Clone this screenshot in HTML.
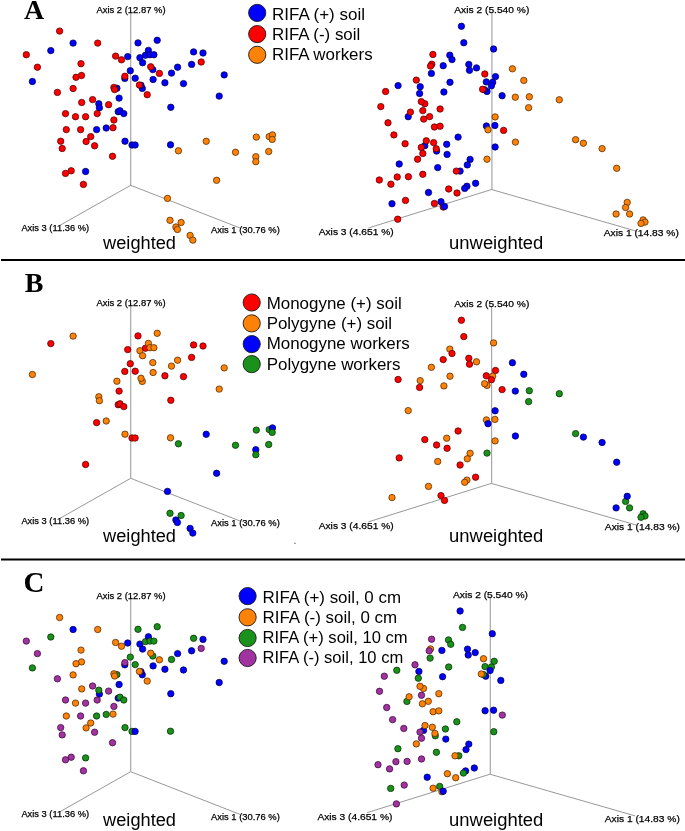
<!DOCTYPE html>
<html><head><meta charset="utf-8"><title>PCoA</title>
<style>html,body{margin:0;padding:0;background:#fff;}svg{display:block;will-change:transform;}</style></head>
<body><svg width="685" height="831" viewBox="0 0 685 831" font-family="Liberation Sans, sans-serif">
<rect width="685" height="831" fill="#fff"/>
<text x="23.90" y="19.40" font-family="Liberation Serif" font-size="28" font-weight="bold">A</text>
<line x1="130.70" y1="10.00" x2="130.70" y2="185.30" stroke="#a8a8a8" stroke-width="1.2"/>
<line x1="130.70" y1="185.30" x2="60.00" y2="225.30" stroke="#8c8c8c" stroke-width="0.9"/>
<line x1="130.70" y1="185.30" x2="240.00" y2="228.00" stroke="#8c8c8c" stroke-width="0.9"/>
<text x="96.40" y="12.60" font-family="Liberation Sans" font-size="9" font-weight="normal" textLength="69.2" lengthAdjust="spacingAndGlyphs" stroke="#000" stroke-width="0.25">Axis 2 (12.87 %)</text>
<text x="21.40" y="230.60" font-family="Liberation Sans" font-size="9" font-weight="normal" textLength="67.7" lengthAdjust="spacingAndGlyphs" stroke="#000" stroke-width="0.25">Axis 3 (11.36 %)</text>
<text x="211.00" y="233.20" font-family="Liberation Sans" font-size="9" font-weight="normal" textLength="68.8" lengthAdjust="spacingAndGlyphs" stroke="#000" stroke-width="0.25">Axis 1 (30.76 %)</text>
<text x="103.10" y="248.80" font-family="Liberation Sans" font-size="18" font-weight="normal" textLength="72.9" lengthAdjust="spacingAndGlyphs">weighted</text>
<circle cx="73.1" cy="43.1" r="3.2" fill="#0000ff" stroke="#000050" stroke-width="0.75"/>
<circle cx="50.8" cy="50.6" r="3.2" fill="#0000ff" stroke="#000050" stroke-width="0.75"/>
<circle cx="32.4" cy="81.5" r="3.2" fill="#0000ff" stroke="#000050" stroke-width="0.75"/>
<circle cx="138.0" cy="42.9" r="3.2" fill="#0000ff" stroke="#000050" stroke-width="0.75"/>
<circle cx="157.2" cy="40.3" r="3.2" fill="#0000ff" stroke="#000050" stroke-width="0.75"/>
<circle cx="127.7" cy="56.6" r="3.2" fill="#0000ff" stroke="#000050" stroke-width="0.75"/>
<circle cx="139.9" cy="57.7" r="3.2" fill="#0000ff" stroke="#000050" stroke-width="0.75"/>
<circle cx="145.5" cy="55.2" r="3.2" fill="#0000ff" stroke="#000050" stroke-width="0.75"/>
<circle cx="148.4" cy="50.4" r="3.2" fill="#0000ff" stroke="#000050" stroke-width="0.75"/>
<circle cx="150.0" cy="54.7" r="3.2" fill="#0000ff" stroke="#000050" stroke-width="0.75"/>
<circle cx="153.9" cy="54.7" r="3.2" fill="#0000ff" stroke="#000050" stroke-width="0.75"/>
<circle cx="142.6" cy="62.7" r="3.2" fill="#0000ff" stroke="#000050" stroke-width="0.75"/>
<circle cx="130.3" cy="70.7" r="3.2" fill="#0000ff" stroke="#000050" stroke-width="0.75"/>
<circle cx="152.8" cy="69.6" r="3.2" fill="#0000ff" stroke="#000050" stroke-width="0.75"/>
<circle cx="135.2" cy="78.2" r="3.2" fill="#0000ff" stroke="#000050" stroke-width="0.75"/>
<circle cx="124.8" cy="78.4" r="3.2" fill="#0000ff" stroke="#000050" stroke-width="0.75"/>
<circle cx="153.1" cy="79.5" r="3.2" fill="#0000ff" stroke="#000050" stroke-width="0.75"/>
<circle cx="164.9" cy="82.8" r="3.2" fill="#0000ff" stroke="#000050" stroke-width="0.75"/>
<circle cx="171.5" cy="73.1" r="3.2" fill="#0000ff" stroke="#000050" stroke-width="0.75"/>
<circle cx="177.6" cy="67.2" r="3.2" fill="#0000ff" stroke="#000050" stroke-width="0.75"/>
<circle cx="191.6" cy="64.4" r="3.2" fill="#0000ff" stroke="#000050" stroke-width="0.75"/>
<circle cx="193.6" cy="51.9" r="3.2" fill="#0000ff" stroke="#000050" stroke-width="0.75"/>
<circle cx="203.0" cy="53.0" r="3.2" fill="#0000ff" stroke="#000050" stroke-width="0.75"/>
<circle cx="224.2" cy="74.9" r="3.2" fill="#0000ff" stroke="#000050" stroke-width="0.75"/>
<circle cx="183.5" cy="83.6" r="3.2" fill="#0000ff" stroke="#000050" stroke-width="0.75"/>
<circle cx="142.3" cy="88.4" r="3.2" fill="#0000ff" stroke="#000050" stroke-width="0.75"/>
<circle cx="219.2" cy="96.1" r="3.2" fill="#0000ff" stroke="#000050" stroke-width="0.75"/>
<circle cx="170.8" cy="107.3" r="3.2" fill="#0000ff" stroke="#000050" stroke-width="0.75"/>
<circle cx="116.9" cy="88.2" r="3.2" fill="#0000ff" stroke="#000050" stroke-width="0.75"/>
<circle cx="119.1" cy="98.1" r="3.2" fill="#0000ff" stroke="#000050" stroke-width="0.75"/>
<circle cx="98.8" cy="103.8" r="3.2" fill="#0000ff" stroke="#000050" stroke-width="0.75"/>
<circle cx="99.4" cy="107.7" r="3.2" fill="#0000ff" stroke="#000050" stroke-width="0.75"/>
<circle cx="118.2" cy="111.7" r="3.2" fill="#0000ff" stroke="#000050" stroke-width="0.75"/>
<circle cx="120.0" cy="110.8" r="3.2" fill="#0000ff" stroke="#000050" stroke-width="0.75"/>
<circle cx="123.8" cy="113.6" r="3.2" fill="#0000ff" stroke="#000050" stroke-width="0.75"/>
<circle cx="96.6" cy="129.6" r="3.2" fill="#0000ff" stroke="#000050" stroke-width="0.75"/>
<circle cx="106.2" cy="128.0" r="3.2" fill="#0000ff" stroke="#000050" stroke-width="0.75"/>
<circle cx="125.0" cy="141.2" r="3.2" fill="#0000ff" stroke="#000050" stroke-width="0.75"/>
<circle cx="132.0" cy="145.0" r="3.2" fill="#0000ff" stroke="#000050" stroke-width="0.75"/>
<circle cx="135.1" cy="145.0" r="3.2" fill="#0000ff" stroke="#000050" stroke-width="0.75"/>
<circle cx="85.6" cy="171.5" r="3.2" fill="#0000ff" stroke="#000050" stroke-width="0.75"/>
<circle cx="170.5" cy="144.8" r="3.2" fill="#0000ff" stroke="#000050" stroke-width="0.75"/>
<circle cx="141.0" cy="85.3" r="3.2" fill="#0000ff" stroke="#000050" stroke-width="0.75"/>
<circle cx="59.6" cy="31.1" r="3.2" fill="#ff0000" stroke="#500000" stroke-width="0.75"/>
<circle cx="97.7" cy="43.1" r="3.2" fill="#ff0000" stroke="#500000" stroke-width="0.75"/>
<circle cx="26.3" cy="54.7" r="3.2" fill="#ff0000" stroke="#500000" stroke-width="0.75"/>
<circle cx="37.4" cy="67.2" r="3.2" fill="#ff0000" stroke="#500000" stroke-width="0.75"/>
<circle cx="81.0" cy="63.7" r="3.2" fill="#ff0000" stroke="#500000" stroke-width="0.75"/>
<circle cx="115.6" cy="56.1" r="3.2" fill="#ff0000" stroke="#500000" stroke-width="0.75"/>
<circle cx="121.5" cy="59.8" r="3.2" fill="#ff0000" stroke="#500000" stroke-width="0.75"/>
<circle cx="81.5" cy="75.5" r="3.2" fill="#ff0000" stroke="#500000" stroke-width="0.75"/>
<circle cx="76.0" cy="77.3" r="3.2" fill="#ff0000" stroke="#500000" stroke-width="0.75"/>
<circle cx="124.9" cy="76.2" r="3.2" fill="#ff0000" stroke="#500000" stroke-width="0.75"/>
<circle cx="57.4" cy="92.4" r="3.2" fill="#ff0000" stroke="#500000" stroke-width="0.75"/>
<circle cx="73.1" cy="88.5" r="3.2" fill="#ff0000" stroke="#500000" stroke-width="0.75"/>
<circle cx="113.9" cy="87.4" r="3.2" fill="#ff0000" stroke="#500000" stroke-width="0.75"/>
<circle cx="139.4" cy="85.0" r="3.2" fill="#ff0000" stroke="#500000" stroke-width="0.75"/>
<circle cx="147.2" cy="94.7" r="3.2" fill="#ff0000" stroke="#500000" stroke-width="0.75"/>
<circle cx="81.7" cy="102.5" r="3.2" fill="#ff0000" stroke="#500000" stroke-width="0.75"/>
<circle cx="92.6" cy="99.6" r="3.2" fill="#ff0000" stroke="#500000" stroke-width="0.75"/>
<circle cx="108.6" cy="104.7" r="3.2" fill="#ff0000" stroke="#500000" stroke-width="0.75"/>
<circle cx="65.5" cy="113.6" r="3.2" fill="#ff0000" stroke="#500000" stroke-width="0.75"/>
<circle cx="75.5" cy="116.7" r="3.2" fill="#ff0000" stroke="#500000" stroke-width="0.75"/>
<circle cx="85.6" cy="116.7" r="3.2" fill="#ff0000" stroke="#500000" stroke-width="0.75"/>
<circle cx="97.2" cy="113.6" r="3.2" fill="#ff0000" stroke="#500000" stroke-width="0.75"/>
<circle cx="113.9" cy="120.0" r="3.2" fill="#ff0000" stroke="#500000" stroke-width="0.75"/>
<circle cx="66.3" cy="129.6" r="3.2" fill="#ff0000" stroke="#500000" stroke-width="0.75"/>
<circle cx="80.6" cy="129.6" r="3.2" fill="#ff0000" stroke="#500000" stroke-width="0.75"/>
<circle cx="113.0" cy="127.7" r="3.2" fill="#ff0000" stroke="#500000" stroke-width="0.75"/>
<circle cx="90.7" cy="136.6" r="3.2" fill="#ff0000" stroke="#500000" stroke-width="0.75"/>
<circle cx="86.1" cy="141.5" r="3.2" fill="#ff0000" stroke="#500000" stroke-width="0.75"/>
<circle cx="60.7" cy="141.2" r="3.2" fill="#ff0000" stroke="#500000" stroke-width="0.75"/>
<circle cx="62.2" cy="148.5" r="3.2" fill="#ff0000" stroke="#500000" stroke-width="0.75"/>
<circle cx="94.6" cy="145.8" r="3.2" fill="#ff0000" stroke="#500000" stroke-width="0.75"/>
<circle cx="112.5" cy="156.3" r="3.2" fill="#ff0000" stroke="#500000" stroke-width="0.75"/>
<circle cx="71.2" cy="170.8" r="3.2" fill="#ff0000" stroke="#500000" stroke-width="0.75"/>
<circle cx="65.5" cy="173.4" r="3.2" fill="#ff0000" stroke="#500000" stroke-width="0.75"/>
<circle cx="83.4" cy="184.4" r="3.2" fill="#ff0000" stroke="#500000" stroke-width="0.75"/>
<circle cx="150.7" cy="66.8" r="3.2" fill="#ff0000" stroke="#500000" stroke-width="0.75"/>
<circle cx="159.4" cy="73.4" r="3.2" fill="#ff0000" stroke="#500000" stroke-width="0.75"/>
<circle cx="201.2" cy="62.0" r="3.2" fill="#ff0000" stroke="#500000" stroke-width="0.75"/>
<circle cx="114.6" cy="89.6" r="3.2" fill="#ff0000" stroke="#500000" stroke-width="0.75"/>
<circle cx="206.2" cy="141.3" r="3.2" fill="#ff8208" stroke="#502800" stroke-width="0.75"/>
<circle cx="178.4" cy="150.8" r="3.2" fill="#ff8208" stroke="#502800" stroke-width="0.75"/>
<circle cx="235.5" cy="152.3" r="3.2" fill="#ff8208" stroke="#502800" stroke-width="0.75"/>
<circle cx="256.3" cy="137.1" r="3.2" fill="#ff8208" stroke="#502800" stroke-width="0.75"/>
<circle cx="269.2" cy="136.6" r="3.2" fill="#ff8208" stroke="#502800" stroke-width="0.75"/>
<circle cx="272.5" cy="134.9" r="3.2" fill="#ff8208" stroke="#502800" stroke-width="0.75"/>
<circle cx="272.2" cy="139.4" r="3.2" fill="#ff8208" stroke="#502800" stroke-width="0.75"/>
<circle cx="268.7" cy="151.5" r="3.2" fill="#ff8208" stroke="#502800" stroke-width="0.75"/>
<circle cx="255.8" cy="156.7" r="3.2" fill="#ff8208" stroke="#502800" stroke-width="0.75"/>
<circle cx="255.8" cy="161.7" r="3.2" fill="#ff8208" stroke="#502800" stroke-width="0.75"/>
<circle cx="216.6" cy="180.3" r="3.2" fill="#ff8208" stroke="#502800" stroke-width="0.75"/>
<circle cx="167.5" cy="198.4" r="3.2" fill="#ff8208" stroke="#502800" stroke-width="0.75"/>
<circle cx="170.0" cy="220.3" r="3.2" fill="#ff8208" stroke="#502800" stroke-width="0.75"/>
<circle cx="181.1" cy="222.5" r="3.2" fill="#ff8208" stroke="#502800" stroke-width="0.75"/>
<circle cx="175.9" cy="227.0" r="3.2" fill="#ff8208" stroke="#502800" stroke-width="0.75"/>
<circle cx="177.4" cy="229.5" r="3.2" fill="#ff8208" stroke="#502800" stroke-width="0.75"/>
<circle cx="190.1" cy="235.4" r="3.2" fill="#ff8208" stroke="#502800" stroke-width="0.75"/>
<circle cx="192.8" cy="240.1" r="3.2" fill="#ff8208" stroke="#502800" stroke-width="0.75"/>
<line x1="491.90" y1="12.00" x2="491.90" y2="189.40" stroke="#c4c4c4" stroke-width="1.8"/>
<line x1="491.90" y1="189.40" x2="368.40" y2="228.00" stroke="#8c8c8c" stroke-width="0.9"/>
<line x1="491.90" y1="189.60" x2="636.50" y2="231.20" stroke="#8c8c8c" stroke-width="0.9"/>
<text x="454.30" y="13.40" font-family="Liberation Sans" font-size="9.6" font-weight="normal" textLength="75.0" lengthAdjust="spacingAndGlyphs" stroke="#000" stroke-width="0.25">Axis 2 (5.540 %)</text>
<text x="318.70" y="235.40" font-family="Liberation Sans" font-size="9.6" font-weight="normal" textLength="75.0" lengthAdjust="spacingAndGlyphs" stroke="#000" stroke-width="0.25">Axis 3 (4.651 %)</text>
<text x="603.70" y="235.60" font-family="Liberation Sans" font-size="9.6" font-weight="normal" textLength="75.2" lengthAdjust="spacingAndGlyphs" stroke="#000" stroke-width="0.25">Axis 1 (14.83 %)</text>
<text x="449.10" y="249.00" font-family="Liberation Sans" font-size="18" font-weight="normal" textLength="94.2" lengthAdjust="spacingAndGlyphs">unweighted</text>
<circle cx="461.4" cy="26.3" r="3.2" fill="#0000ff" stroke="#000050" stroke-width="0.75"/>
<circle cx="463.8" cy="42.7" r="3.2" fill="#0000ff" stroke="#000050" stroke-width="0.75"/>
<circle cx="493.6" cy="49.0" r="3.2" fill="#0000ff" stroke="#000050" stroke-width="0.75"/>
<circle cx="449.8" cy="55.2" r="3.2" fill="#0000ff" stroke="#000050" stroke-width="0.75"/>
<circle cx="452.0" cy="59.6" r="3.2" fill="#0000ff" stroke="#000050" stroke-width="0.75"/>
<circle cx="443.2" cy="65.7" r="3.2" fill="#0000ff" stroke="#000050" stroke-width="0.75"/>
<circle cx="431.4" cy="73.4" r="3.2" fill="#0000ff" stroke="#000050" stroke-width="0.75"/>
<circle cx="468.8" cy="64.4" r="3.2" fill="#0000ff" stroke="#000050" stroke-width="0.75"/>
<circle cx="476.5" cy="67.9" r="3.2" fill="#0000ff" stroke="#000050" stroke-width="0.75"/>
<circle cx="469.5" cy="70.3" r="3.2" fill="#0000ff" stroke="#000050" stroke-width="0.75"/>
<circle cx="495.5" cy="76.6" r="3.2" fill="#0000ff" stroke="#000050" stroke-width="0.75"/>
<circle cx="486.3" cy="81.9" r="3.2" fill="#0000ff" stroke="#000050" stroke-width="0.75"/>
<circle cx="492.7" cy="82.3" r="3.2" fill="#0000ff" stroke="#000050" stroke-width="0.75"/>
<circle cx="491.4" cy="85.8" r="3.2" fill="#0000ff" stroke="#000050" stroke-width="0.75"/>
<circle cx="450.0" cy="82.3" r="3.2" fill="#0000ff" stroke="#000050" stroke-width="0.75"/>
<circle cx="443.9" cy="92.0" r="3.2" fill="#0000ff" stroke="#000050" stroke-width="0.75"/>
<circle cx="487.0" cy="91.5" r="3.2" fill="#0000ff" stroke="#000050" stroke-width="0.75"/>
<circle cx="484.6" cy="89.8" r="3.2" fill="#0000ff" stroke="#000050" stroke-width="0.75"/>
<circle cx="502.1" cy="95.7" r="3.2" fill="#0000ff" stroke="#000050" stroke-width="0.75"/>
<circle cx="398.1" cy="85.6" r="3.2" fill="#0000ff" stroke="#000050" stroke-width="0.75"/>
<circle cx="420.2" cy="86.7" r="3.2" fill="#0000ff" stroke="#000050" stroke-width="0.75"/>
<circle cx="419.6" cy="93.5" r="3.2" fill="#0000ff" stroke="#000050" stroke-width="0.75"/>
<circle cx="408.2" cy="116.7" r="3.2" fill="#0000ff" stroke="#000050" stroke-width="0.75"/>
<circle cx="486.4" cy="126.0" r="3.2" fill="#0000ff" stroke="#000050" stroke-width="0.75"/>
<circle cx="494.9" cy="125.5" r="3.2" fill="#0000ff" stroke="#000050" stroke-width="0.75"/>
<circle cx="458.1" cy="137.1" r="3.2" fill="#0000ff" stroke="#000050" stroke-width="0.75"/>
<circle cx="446.7" cy="144.3" r="3.2" fill="#0000ff" stroke="#000050" stroke-width="0.75"/>
<circle cx="424.8" cy="145.7" r="3.2" fill="#0000ff" stroke="#000050" stroke-width="0.75"/>
<circle cx="436.6" cy="151.1" r="3.2" fill="#0000ff" stroke="#000050" stroke-width="0.75"/>
<circle cx="447.1" cy="154.4" r="3.2" fill="#0000ff" stroke="#000050" stroke-width="0.75"/>
<circle cx="495.1" cy="147.0" r="3.2" fill="#0000ff" stroke="#000050" stroke-width="0.75"/>
<circle cx="470.1" cy="159.4" r="3.2" fill="#0000ff" stroke="#000050" stroke-width="0.75"/>
<circle cx="467.3" cy="164.9" r="3.2" fill="#0000ff" stroke="#000050" stroke-width="0.75"/>
<circle cx="399.2" cy="164.0" r="3.2" fill="#0000ff" stroke="#000050" stroke-width="0.75"/>
<circle cx="437.7" cy="167.6" r="3.2" fill="#0000ff" stroke="#000050" stroke-width="0.75"/>
<circle cx="460.1" cy="171.1" r="3.2" fill="#0000ff" stroke="#000050" stroke-width="0.75"/>
<circle cx="475.6" cy="183.3" r="3.2" fill="#0000ff" stroke="#000050" stroke-width="0.75"/>
<circle cx="466.9" cy="186.2" r="3.2" fill="#0000ff" stroke="#000050" stroke-width="0.75"/>
<circle cx="464.7" cy="188.4" r="3.2" fill="#0000ff" stroke="#000050" stroke-width="0.75"/>
<circle cx="428.5" cy="192.5" r="3.2" fill="#0000ff" stroke="#000050" stroke-width="0.75"/>
<circle cx="392.0" cy="203.7" r="3.2" fill="#0000ff" stroke="#000050" stroke-width="0.75"/>
<circle cx="441.0" cy="201.7" r="3.2" fill="#0000ff" stroke="#000050" stroke-width="0.75"/>
<circle cx="432.9" cy="54.5" r="3.2" fill="#ff0000" stroke="#500000" stroke-width="0.75"/>
<circle cx="431.8" cy="64.2" r="3.2" fill="#ff0000" stroke="#500000" stroke-width="0.75"/>
<circle cx="430.5" cy="66.1" r="3.2" fill="#ff0000" stroke="#500000" stroke-width="0.75"/>
<circle cx="484.8" cy="74.0" r="3.2" fill="#ff0000" stroke="#500000" stroke-width="0.75"/>
<circle cx="416.3" cy="80.1" r="3.2" fill="#ff0000" stroke="#500000" stroke-width="0.75"/>
<circle cx="482.6" cy="89.3" r="3.2" fill="#ff0000" stroke="#500000" stroke-width="0.75"/>
<circle cx="385.6" cy="91.5" r="3.2" fill="#ff0000" stroke="#500000" stroke-width="0.75"/>
<circle cx="380.8" cy="106.6" r="3.2" fill="#ff0000" stroke="#500000" stroke-width="0.75"/>
<circle cx="424.8" cy="103.8" r="3.2" fill="#ff0000" stroke="#500000" stroke-width="0.75"/>
<circle cx="422.8" cy="110.6" r="3.2" fill="#ff0000" stroke="#500000" stroke-width="0.75"/>
<circle cx="410.4" cy="112.1" r="3.2" fill="#ff0000" stroke="#500000" stroke-width="0.75"/>
<circle cx="440.1" cy="109.0" r="3.2" fill="#ff0000" stroke="#500000" stroke-width="0.75"/>
<circle cx="429.6" cy="116.6" r="3.2" fill="#ff0000" stroke="#500000" stroke-width="0.75"/>
<circle cx="423.7" cy="119.1" r="3.2" fill="#ff0000" stroke="#500000" stroke-width="0.75"/>
<circle cx="388.0" cy="122.8" r="3.2" fill="#ff0000" stroke="#500000" stroke-width="0.75"/>
<circle cx="434.4" cy="127.0" r="3.2" fill="#ff0000" stroke="#500000" stroke-width="0.75"/>
<circle cx="440.1" cy="126.2" r="3.2" fill="#ff0000" stroke="#500000" stroke-width="0.75"/>
<circle cx="503.6" cy="130.4" r="3.2" fill="#ff0000" stroke="#500000" stroke-width="0.75"/>
<circle cx="393.9" cy="134.9" r="3.2" fill="#ff0000" stroke="#500000" stroke-width="0.75"/>
<circle cx="405.1" cy="143.7" r="3.2" fill="#ff0000" stroke="#500000" stroke-width="0.75"/>
<circle cx="426.3" cy="140.8" r="3.2" fill="#ff0000" stroke="#500000" stroke-width="0.75"/>
<circle cx="433.6" cy="142.6" r="3.2" fill="#ff0000" stroke="#500000" stroke-width="0.75"/>
<circle cx="421.3" cy="147.4" r="3.2" fill="#ff0000" stroke="#500000" stroke-width="0.75"/>
<circle cx="436.2" cy="148.7" r="3.2" fill="#ff0000" stroke="#500000" stroke-width="0.75"/>
<circle cx="422.8" cy="153.5" r="3.2" fill="#ff0000" stroke="#500000" stroke-width="0.75"/>
<circle cx="417.6" cy="159.2" r="3.2" fill="#ff0000" stroke="#500000" stroke-width="0.75"/>
<circle cx="379.3" cy="180.0" r="3.2" fill="#ff0000" stroke="#500000" stroke-width="0.75"/>
<circle cx="397.2" cy="177.0" r="3.2" fill="#ff0000" stroke="#500000" stroke-width="0.75"/>
<circle cx="390.9" cy="184.2" r="3.2" fill="#ff0000" stroke="#500000" stroke-width="0.75"/>
<circle cx="408.4" cy="176.7" r="3.2" fill="#ff0000" stroke="#500000" stroke-width="0.75"/>
<circle cx="422.8" cy="174.3" r="3.2" fill="#ff0000" stroke="#500000" stroke-width="0.75"/>
<circle cx="456.3" cy="171.1" r="3.2" fill="#ff0000" stroke="#500000" stroke-width="0.75"/>
<circle cx="448.7" cy="189.0" r="3.2" fill="#ff0000" stroke="#500000" stroke-width="0.75"/>
<circle cx="457.0" cy="193.0" r="3.2" fill="#ff0000" stroke="#500000" stroke-width="0.75"/>
<circle cx="405.5" cy="200.4" r="3.2" fill="#ff0000" stroke="#500000" stroke-width="0.75"/>
<circle cx="434.4" cy="203.5" r="3.2" fill="#ff0000" stroke="#500000" stroke-width="0.75"/>
<circle cx="443.2" cy="207.0" r="3.2" fill="#ff0000" stroke="#500000" stroke-width="0.75"/>
<circle cx="397.7" cy="219.2" r="3.2" fill="#ff0000" stroke="#500000" stroke-width="0.75"/>
<circle cx="512.4" cy="68.8" r="3.2" fill="#ff8208" stroke="#502800" stroke-width="0.75"/>
<circle cx="523.8" cy="80.4" r="3.2" fill="#ff8208" stroke="#502800" stroke-width="0.75"/>
<circle cx="515.3" cy="97.2" r="3.2" fill="#ff8208" stroke="#502800" stroke-width="0.75"/>
<circle cx="529.3" cy="96.8" r="3.2" fill="#ff8208" stroke="#502800" stroke-width="0.75"/>
<circle cx="528.6" cy="107.7" r="3.2" fill="#ff8208" stroke="#502800" stroke-width="0.75"/>
<circle cx="559.3" cy="99.8" r="3.2" fill="#ff8208" stroke="#502800" stroke-width="0.75"/>
<circle cx="495.1" cy="116.9" r="3.2" fill="#ff8208" stroke="#502800" stroke-width="0.75"/>
<circle cx="488.0" cy="129.8" r="3.2" fill="#ff8208" stroke="#502800" stroke-width="0.75"/>
<circle cx="487.0" cy="159.2" r="3.2" fill="#ff8208" stroke="#502800" stroke-width="0.75"/>
<circle cx="515.4" cy="142.1" r="3.2" fill="#ff8208" stroke="#502800" stroke-width="0.75"/>
<circle cx="575.6" cy="139.7" r="3.2" fill="#ff8208" stroke="#502800" stroke-width="0.75"/>
<circle cx="583.4" cy="143.2" r="3.2" fill="#ff8208" stroke="#502800" stroke-width="0.75"/>
<circle cx="602.1" cy="148.6" r="3.2" fill="#ff8208" stroke="#502800" stroke-width="0.75"/>
<circle cx="616.7" cy="168.3" r="3.2" fill="#ff8208" stroke="#502800" stroke-width="0.75"/>
<circle cx="627.2" cy="202.4" r="3.2" fill="#ff8208" stroke="#502800" stroke-width="0.75"/>
<circle cx="625.6" cy="207.5" r="3.2" fill="#ff8208" stroke="#502800" stroke-width="0.75"/>
<circle cx="616.1" cy="214.0" r="3.2" fill="#ff8208" stroke="#502800" stroke-width="0.75"/>
<circle cx="629.6" cy="214.0" r="3.2" fill="#ff8208" stroke="#502800" stroke-width="0.75"/>
<circle cx="643.1" cy="219.9" r="3.2" fill="#ff8208" stroke="#502800" stroke-width="0.75"/>
<circle cx="645.0" cy="222.1" r="3.2" fill="#ff8208" stroke="#502800" stroke-width="0.75"/>
<circle cx="641.0" cy="223.4" r="3.2" fill="#ff8208" stroke="#502800" stroke-width="0.75"/>
<circle cx="444.5" cy="206.5" r="3.2" fill="#0000ff" stroke="#000050" stroke-width="0.75"/>
<circle cx="421.3" cy="101.6" r="3.2" fill="#ff0000" stroke="#500000" stroke-width="0.75"/>
<circle cx="257.2" cy="12.9" r="8.6" fill="#0000ff" stroke="#1a1a1a" stroke-width="0.9"/>
<text x="272.00" y="19.80" font-family="Liberation Sans" font-size="16.5" font-weight="normal" textLength="93.0" lengthAdjust="spacingAndGlyphs">RIFA (+) soil</text>
<circle cx="257.2" cy="34.1" r="8.6" fill="#ff0000" stroke="#1a1a1a" stroke-width="0.9"/>
<text x="272.00" y="40.10" font-family="Liberation Sans" font-size="16.5" font-weight="normal" textLength="88.3" lengthAdjust="spacingAndGlyphs">RIFA (-) soil</text>
<circle cx="257.2" cy="54.8" r="8.6" fill="#ff8208" stroke="#1a1a1a" stroke-width="0.9"/>
<text x="272.00" y="60.30" font-family="Liberation Sans" font-size="16.5" font-weight="normal" textLength="100.6" lengthAdjust="spacingAndGlyphs">RIFA workers</text>
<line x1="1.00" y1="260.00" x2="685.00" y2="260.00" stroke="#000" stroke-width="2"/>
<text x="24.70" y="292.10" font-family="Liberation Serif" font-size="28" font-weight="bold">B</text>
<line x1="130.70" y1="303.00" x2="130.70" y2="478.30" stroke="#a8a8a8" stroke-width="1.2"/>
<line x1="130.70" y1="478.30" x2="60.00" y2="518.30" stroke="#8c8c8c" stroke-width="0.9"/>
<line x1="130.70" y1="478.30" x2="240.00" y2="521.00" stroke="#8c8c8c" stroke-width="0.9"/>
<text x="96.40" y="305.60" font-family="Liberation Sans" font-size="9" font-weight="normal" textLength="69.2" lengthAdjust="spacingAndGlyphs" stroke="#000" stroke-width="0.25">Axis 2 (12.87 %)</text>
<text x="21.40" y="523.60" font-family="Liberation Sans" font-size="9" font-weight="normal" textLength="67.7" lengthAdjust="spacingAndGlyphs" stroke="#000" stroke-width="0.25">Axis 3 (11.36 %)</text>
<text x="211.00" y="526.20" font-family="Liberation Sans" font-size="9" font-weight="normal" textLength="68.8" lengthAdjust="spacingAndGlyphs" stroke="#000" stroke-width="0.25">Axis 1 (30.76 %)</text>
<text x="103.10" y="542.40" font-family="Liberation Sans" font-size="18" font-weight="normal" textLength="72.9" lengthAdjust="spacingAndGlyphs">weighted</text>
<circle cx="73.1" cy="336.1" r="3.2" fill="#ff8208" stroke="#502800" stroke-width="0.75"/>
<circle cx="50.8" cy="343.6" r="3.2" fill="#ff0000" stroke="#500000" stroke-width="0.75"/>
<circle cx="32.4" cy="374.5" r="3.2" fill="#ff8208" stroke="#502800" stroke-width="0.75"/>
<circle cx="138.0" cy="335.9" r="3.2" fill="#ff0000" stroke="#500000" stroke-width="0.75"/>
<circle cx="157.2" cy="333.3" r="3.2" fill="#ff8208" stroke="#502800" stroke-width="0.75"/>
<circle cx="127.7" cy="349.6" r="3.2" fill="#ff0000" stroke="#500000" stroke-width="0.75"/>
<circle cx="139.9" cy="350.7" r="3.2" fill="#ff8208" stroke="#502800" stroke-width="0.75"/>
<circle cx="145.5" cy="348.2" r="3.2" fill="#ff0000" stroke="#500000" stroke-width="0.75"/>
<circle cx="148.4" cy="343.4" r="3.2" fill="#ff8208" stroke="#502800" stroke-width="0.75"/>
<circle cx="150.0" cy="347.7" r="3.2" fill="#ff8208" stroke="#502800" stroke-width="0.75"/>
<circle cx="153.9" cy="347.7" r="3.2" fill="#ff8208" stroke="#502800" stroke-width="0.75"/>
<circle cx="142.6" cy="355.7" r="3.2" fill="#ff8208" stroke="#502800" stroke-width="0.75"/>
<circle cx="130.3" cy="363.7" r="3.2" fill="#ff0000" stroke="#500000" stroke-width="0.75"/>
<circle cx="152.8" cy="362.6" r="3.2" fill="#ff8208" stroke="#502800" stroke-width="0.75"/>
<circle cx="135.2" cy="371.2" r="3.2" fill="#ff0000" stroke="#500000" stroke-width="0.75"/>
<circle cx="124.8" cy="371.4" r="3.2" fill="#ff0000" stroke="#500000" stroke-width="0.75"/>
<circle cx="153.1" cy="372.5" r="3.2" fill="#ff8208" stroke="#502800" stroke-width="0.75"/>
<circle cx="164.9" cy="375.8" r="3.2" fill="#ff0000" stroke="#500000" stroke-width="0.75"/>
<circle cx="171.5" cy="366.1" r="3.2" fill="#ff8208" stroke="#502800" stroke-width="0.75"/>
<circle cx="177.6" cy="360.2" r="3.2" fill="#ff8208" stroke="#502800" stroke-width="0.75"/>
<circle cx="191.6" cy="357.4" r="3.2" fill="#ff0000" stroke="#500000" stroke-width="0.75"/>
<circle cx="193.6" cy="344.9" r="3.2" fill="#ff0000" stroke="#500000" stroke-width="0.75"/>
<circle cx="203.0" cy="346.0" r="3.2" fill="#ff0000" stroke="#500000" stroke-width="0.75"/>
<circle cx="224.2" cy="367.9" r="3.2" fill="#ff8208" stroke="#502800" stroke-width="0.75"/>
<circle cx="183.5" cy="376.6" r="3.2" fill="#ff0000" stroke="#500000" stroke-width="0.75"/>
<circle cx="142.3" cy="381.4" r="3.2" fill="#ff8208" stroke="#502800" stroke-width="0.75"/>
<circle cx="219.2" cy="389.1" r="3.2" fill="#ff8208" stroke="#502800" stroke-width="0.75"/>
<circle cx="170.8" cy="400.3" r="3.2" fill="#ff0000" stroke="#500000" stroke-width="0.75"/>
<circle cx="116.9" cy="381.2" r="3.2" fill="#ff8208" stroke="#502800" stroke-width="0.75"/>
<circle cx="119.1" cy="391.1" r="3.2" fill="#ff0000" stroke="#500000" stroke-width="0.75"/>
<circle cx="98.8" cy="396.8" r="3.2" fill="#ff8208" stroke="#502800" stroke-width="0.75"/>
<circle cx="99.4" cy="400.7" r="3.2" fill="#ff8208" stroke="#502800" stroke-width="0.75"/>
<circle cx="118.2" cy="404.7" r="3.2" fill="#ff0000" stroke="#500000" stroke-width="0.75"/>
<circle cx="120.0" cy="403.8" r="3.2" fill="#ff0000" stroke="#500000" stroke-width="0.75"/>
<circle cx="123.8" cy="406.6" r="3.2" fill="#ff0000" stroke="#500000" stroke-width="0.75"/>
<circle cx="96.6" cy="422.6" r="3.2" fill="#ff0000" stroke="#500000" stroke-width="0.75"/>
<circle cx="106.2" cy="421.0" r="3.2" fill="#ff8208" stroke="#502800" stroke-width="0.75"/>
<circle cx="125.0" cy="434.2" r="3.2" fill="#ff8208" stroke="#502800" stroke-width="0.75"/>
<circle cx="132.0" cy="438.0" r="3.2" fill="#ff0000" stroke="#500000" stroke-width="0.75"/>
<circle cx="135.1" cy="438.0" r="3.2" fill="#ff0000" stroke="#500000" stroke-width="0.75"/>
<circle cx="85.6" cy="464.5" r="3.2" fill="#ff0000" stroke="#500000" stroke-width="0.75"/>
<circle cx="170.5" cy="437.8" r="3.2" fill="#ff8208" stroke="#502800" stroke-width="0.75"/>
<circle cx="141.0" cy="378.3" r="3.2" fill="#ff8208" stroke="#502800" stroke-width="0.75"/>
<circle cx="206.2" cy="434.3" r="3.2" fill="#0000ff" stroke="#000050" stroke-width="0.75"/>
<circle cx="178.4" cy="443.8" r="3.2" fill="#1a911a" stroke="#063006" stroke-width="0.75"/>
<circle cx="235.5" cy="445.3" r="3.2" fill="#1a911a" stroke="#063006" stroke-width="0.75"/>
<circle cx="256.3" cy="430.1" r="3.2" fill="#1a911a" stroke="#063006" stroke-width="0.75"/>
<circle cx="269.2" cy="429.6" r="3.2" fill="#1a911a" stroke="#063006" stroke-width="0.75"/>
<circle cx="272.5" cy="427.9" r="3.2" fill="#0000ff" stroke="#000050" stroke-width="0.75"/>
<circle cx="272.2" cy="432.4" r="3.2" fill="#1a911a" stroke="#063006" stroke-width="0.75"/>
<circle cx="268.7" cy="444.5" r="3.2" fill="#1a911a" stroke="#063006" stroke-width="0.75"/>
<circle cx="255.8" cy="449.7" r="3.2" fill="#0000ff" stroke="#000050" stroke-width="0.75"/>
<circle cx="255.8" cy="454.7" r="3.2" fill="#1a911a" stroke="#063006" stroke-width="0.75"/>
<circle cx="216.6" cy="473.3" r="3.2" fill="#0000ff" stroke="#000050" stroke-width="0.75"/>
<circle cx="167.5" cy="491.4" r="3.2" fill="#0000ff" stroke="#000050" stroke-width="0.75"/>
<circle cx="170.0" cy="513.3" r="3.2" fill="#1a911a" stroke="#063006" stroke-width="0.75"/>
<circle cx="181.1" cy="515.5" r="3.2" fill="#1a911a" stroke="#063006" stroke-width="0.75"/>
<circle cx="175.9" cy="520.0" r="3.2" fill="#0000ff" stroke="#000050" stroke-width="0.75"/>
<circle cx="177.4" cy="522.5" r="3.2" fill="#0000ff" stroke="#000050" stroke-width="0.75"/>
<circle cx="190.1" cy="528.4" r="3.2" fill="#0000ff" stroke="#000050" stroke-width="0.75"/>
<circle cx="192.8" cy="533.1" r="3.2" fill="#0000ff" stroke="#000050" stroke-width="0.75"/>
<line x1="491.60" y1="305.90" x2="491.60" y2="483.30" stroke="#a8a8a8" stroke-width="1.2"/>
<line x1="491.60" y1="483.30" x2="368.40" y2="521.90" stroke="#8c8c8c" stroke-width="0.9"/>
<line x1="491.60" y1="483.50" x2="636.50" y2="525.10" stroke="#8c8c8c" stroke-width="0.9"/>
<text x="454.30" y="307.30" font-family="Liberation Sans" font-size="9.6" font-weight="normal" textLength="75.0" lengthAdjust="spacingAndGlyphs" stroke="#000" stroke-width="0.25">Axis 2 (5.540 %)</text>
<text x="318.70" y="529.30" font-family="Liberation Sans" font-size="9.6" font-weight="normal" textLength="75.0" lengthAdjust="spacingAndGlyphs" stroke="#000" stroke-width="0.25">Axis 3 (4.651 %)</text>
<text x="604.80" y="530.20" font-family="Liberation Sans" font-size="9.6" font-weight="normal" textLength="75.2" lengthAdjust="spacingAndGlyphs" stroke="#000" stroke-width="0.25">Axis 1 (14.83 %)</text>
<text x="449.10" y="541.90" font-family="Liberation Sans" font-size="18" font-weight="normal" textLength="94.2" lengthAdjust="spacingAndGlyphs">unweighted</text>
<circle cx="461.4" cy="320.2" r="3.2" fill="#ff0000" stroke="#500000" stroke-width="0.75"/>
<circle cx="463.8" cy="336.6" r="3.2" fill="#ff0000" stroke="#500000" stroke-width="0.75"/>
<circle cx="493.6" cy="342.9" r="3.2" fill="#ff8208" stroke="#502800" stroke-width="0.75"/>
<circle cx="449.8" cy="349.1" r="3.2" fill="#ff8208" stroke="#502800" stroke-width="0.75"/>
<circle cx="452.0" cy="353.5" r="3.2" fill="#ff0000" stroke="#500000" stroke-width="0.75"/>
<circle cx="443.2" cy="359.6" r="3.2" fill="#ff0000" stroke="#500000" stroke-width="0.75"/>
<circle cx="431.4" cy="367.3" r="3.2" fill="#ff8208" stroke="#502800" stroke-width="0.75"/>
<circle cx="468.8" cy="358.3" r="3.2" fill="#ff0000" stroke="#500000" stroke-width="0.75"/>
<circle cx="476.5" cy="361.8" r="3.2" fill="#ff8208" stroke="#502800" stroke-width="0.75"/>
<circle cx="469.5" cy="364.2" r="3.2" fill="#ff0000" stroke="#500000" stroke-width="0.75"/>
<circle cx="495.5" cy="370.5" r="3.2" fill="#ff0000" stroke="#500000" stroke-width="0.75"/>
<circle cx="486.3" cy="375.8" r="3.2" fill="#ff0000" stroke="#500000" stroke-width="0.75"/>
<circle cx="492.7" cy="376.2" r="3.2" fill="#ff8208" stroke="#502800" stroke-width="0.75"/>
<circle cx="491.4" cy="379.7" r="3.2" fill="#ff0000" stroke="#500000" stroke-width="0.75"/>
<circle cx="450.0" cy="376.2" r="3.2" fill="#ff8208" stroke="#502800" stroke-width="0.75"/>
<circle cx="443.9" cy="385.9" r="3.2" fill="#ff8208" stroke="#502800" stroke-width="0.75"/>
<circle cx="487.0" cy="385.4" r="3.2" fill="#ff8208" stroke="#502800" stroke-width="0.75"/>
<circle cx="484.6" cy="383.7" r="3.2" fill="#ff8208" stroke="#502800" stroke-width="0.75"/>
<circle cx="502.1" cy="389.6" r="3.2" fill="#ff0000" stroke="#500000" stroke-width="0.75"/>
<circle cx="398.1" cy="379.5" r="3.2" fill="#ff0000" stroke="#500000" stroke-width="0.75"/>
<circle cx="420.2" cy="380.6" r="3.2" fill="#ff8208" stroke="#502800" stroke-width="0.75"/>
<circle cx="419.6" cy="387.4" r="3.2" fill="#ff0000" stroke="#500000" stroke-width="0.75"/>
<circle cx="408.2" cy="410.6" r="3.2" fill="#ff8208" stroke="#502800" stroke-width="0.75"/>
<circle cx="486.4" cy="419.9" r="3.2" fill="#ff8208" stroke="#502800" stroke-width="0.75"/>
<circle cx="494.9" cy="419.4" r="3.2" fill="#ff8208" stroke="#502800" stroke-width="0.75"/>
<circle cx="458.1" cy="431.0" r="3.2" fill="#ff0000" stroke="#500000" stroke-width="0.75"/>
<circle cx="446.7" cy="438.2" r="3.2" fill="#ff8208" stroke="#502800" stroke-width="0.75"/>
<circle cx="424.8" cy="439.6" r="3.2" fill="#ff0000" stroke="#500000" stroke-width="0.75"/>
<circle cx="436.6" cy="445.0" r="3.2" fill="#ff0000" stroke="#500000" stroke-width="0.75"/>
<circle cx="447.1" cy="448.3" r="3.2" fill="#ff0000" stroke="#500000" stroke-width="0.75"/>
<circle cx="495.1" cy="440.9" r="3.2" fill="#ff8208" stroke="#502800" stroke-width="0.75"/>
<circle cx="470.1" cy="453.3" r="3.2" fill="#ff8208" stroke="#502800" stroke-width="0.75"/>
<circle cx="467.3" cy="458.8" r="3.2" fill="#ff8208" stroke="#502800" stroke-width="0.75"/>
<circle cx="399.2" cy="457.9" r="3.2" fill="#ff0000" stroke="#500000" stroke-width="0.75"/>
<circle cx="437.7" cy="461.5" r="3.2" fill="#ff8208" stroke="#502800" stroke-width="0.75"/>
<circle cx="460.1" cy="465.0" r="3.2" fill="#ff0000" stroke="#500000" stroke-width="0.75"/>
<circle cx="475.6" cy="477.2" r="3.2" fill="#ff0000" stroke="#500000" stroke-width="0.75"/>
<circle cx="466.9" cy="480.1" r="3.2" fill="#ff8208" stroke="#502800" stroke-width="0.75"/>
<circle cx="464.7" cy="482.3" r="3.2" fill="#ff8208" stroke="#502800" stroke-width="0.75"/>
<circle cx="428.5" cy="486.4" r="3.2" fill="#ff8208" stroke="#502800" stroke-width="0.75"/>
<circle cx="392.0" cy="497.6" r="3.2" fill="#ff8208" stroke="#502800" stroke-width="0.75"/>
<circle cx="441.0" cy="495.6" r="3.2" fill="#ff0000" stroke="#500000" stroke-width="0.75"/>
<circle cx="444.5" cy="500.4" r="3.2" fill="#ff0000" stroke="#500000" stroke-width="0.75"/>
<circle cx="512.4" cy="362.7" r="3.2" fill="#0000ff" stroke="#000050" stroke-width="0.75"/>
<circle cx="523.8" cy="374.3" r="3.2" fill="#0000ff" stroke="#000050" stroke-width="0.75"/>
<circle cx="515.3" cy="391.1" r="3.2" fill="#0000ff" stroke="#000050" stroke-width="0.75"/>
<circle cx="529.3" cy="390.7" r="3.2" fill="#1a911a" stroke="#063006" stroke-width="0.75"/>
<circle cx="528.6" cy="401.6" r="3.2" fill="#1a911a" stroke="#063006" stroke-width="0.75"/>
<circle cx="559.3" cy="393.7" r="3.2" fill="#1a911a" stroke="#063006" stroke-width="0.75"/>
<circle cx="495.1" cy="410.8" r="3.2" fill="#0000ff" stroke="#000050" stroke-width="0.75"/>
<circle cx="488.0" cy="423.7" r="3.2" fill="#0000ff" stroke="#000050" stroke-width="0.75"/>
<circle cx="487.0" cy="453.1" r="3.2" fill="#1a911a" stroke="#063006" stroke-width="0.75"/>
<circle cx="515.4" cy="436.0" r="3.2" fill="#0000ff" stroke="#000050" stroke-width="0.75"/>
<circle cx="575.6" cy="433.6" r="3.2" fill="#1a911a" stroke="#063006" stroke-width="0.75"/>
<circle cx="583.4" cy="437.1" r="3.2" fill="#0000ff" stroke="#000050" stroke-width="0.75"/>
<circle cx="602.1" cy="442.5" r="3.2" fill="#0000ff" stroke="#000050" stroke-width="0.75"/>
<circle cx="616.7" cy="462.2" r="3.2" fill="#0000ff" stroke="#000050" stroke-width="0.75"/>
<circle cx="625.6" cy="501.4" r="3.2" fill="#1a911a" stroke="#063006" stroke-width="0.75"/>
<circle cx="616.1" cy="507.9" r="3.2" fill="#0000ff" stroke="#000050" stroke-width="0.75"/>
<circle cx="629.6" cy="507.9" r="3.2" fill="#1a911a" stroke="#063006" stroke-width="0.75"/>
<circle cx="643.1" cy="513.8" r="3.2" fill="#1a911a" stroke="#063006" stroke-width="0.75"/>
<circle cx="645.0" cy="516.0" r="3.2" fill="#1a911a" stroke="#063006" stroke-width="0.75"/>
<circle cx="641.0" cy="517.3" r="3.2" fill="#1a911a" stroke="#063006" stroke-width="0.75"/>
<circle cx="627.2" cy="496.3" r="3.2" fill="#0000ff" stroke="#000050" stroke-width="0.75"/>
<circle cx="251.7" cy="302.5" r="8.6" fill="#ff0000" stroke="#1a1a1a" stroke-width="0.9"/>
<text x="266.70" y="309.10" font-family="Liberation Sans" font-size="16.5" font-weight="normal" textLength="135.0" lengthAdjust="spacingAndGlyphs">Monogyne (+) soil</text>
<circle cx="251.7" cy="323.4" r="8.6" fill="#ff8208" stroke="#1a1a1a" stroke-width="0.9"/>
<text x="266.70" y="329.20" font-family="Liberation Sans" font-size="16.5" font-weight="normal" textLength="125.4" lengthAdjust="spacingAndGlyphs">Polygyne (+) soil</text>
<circle cx="251.7" cy="344.1" r="8.6" fill="#0000ff" stroke="#1a1a1a" stroke-width="0.9"/>
<text x="266.70" y="349.40" font-family="Liberation Sans" font-size="16.5" font-weight="normal" textLength="143.1" lengthAdjust="spacingAndGlyphs">Monogyne workers</text>
<circle cx="251.7" cy="364.1" r="8.6" fill="#1a911a" stroke="#1a1a1a" stroke-width="0.9"/>
<text x="266.70" y="369.50" font-family="Liberation Sans" font-size="16.5" font-weight="normal" textLength="133.8" lengthAdjust="spacingAndGlyphs">Polygyne workers</text>
<line x1="1.00" y1="559.60" x2="685.00" y2="559.60" stroke="#000" stroke-width="2"/>
<rect x="294" y="542.8" width="2" height="1.2" fill="#a0a0ac"/>
<text x="23.60" y="591.70" font-family="Liberation Serif" font-size="29" font-weight="bold">C</text>
<line x1="130.70" y1="596.40" x2="130.70" y2="771.70" stroke="#a8a8a8" stroke-width="1.2"/>
<line x1="130.70" y1="771.70" x2="60.00" y2="811.70" stroke="#8c8c8c" stroke-width="0.9"/>
<line x1="130.70" y1="771.70" x2="240.00" y2="814.40" stroke="#8c8c8c" stroke-width="0.9"/>
<text x="96.40" y="599.00" font-family="Liberation Sans" font-size="9" font-weight="normal" textLength="69.2" lengthAdjust="spacingAndGlyphs" stroke="#000" stroke-width="0.25">Axis 2 (12.87 %)</text>
<text x="21.40" y="817.00" font-family="Liberation Sans" font-size="9" font-weight="normal" textLength="67.7" lengthAdjust="spacingAndGlyphs" stroke="#000" stroke-width="0.25">Axis 3 (11.36 %)</text>
<text x="211.00" y="819.60" font-family="Liberation Sans" font-size="9" font-weight="normal" textLength="68.8" lengthAdjust="spacingAndGlyphs" stroke="#000" stroke-width="0.25">Axis 1 (30.76 %)</text>
<text x="103.10" y="825.80" font-family="Liberation Sans" font-size="18" font-weight="normal" textLength="72.9" lengthAdjust="spacingAndGlyphs">weighted</text>
<circle cx="73.1" cy="629.5" r="3.2" fill="#0000ff" stroke="#000050" stroke-width="0.75"/>
<circle cx="50.8" cy="637.0" r="3.2" fill="#1a911a" stroke="#063006" stroke-width="0.75"/>
<circle cx="32.4" cy="667.9" r="3.2" fill="#1a911a" stroke="#063006" stroke-width="0.75"/>
<circle cx="138.0" cy="629.3" r="3.2" fill="#1a911a" stroke="#063006" stroke-width="0.75"/>
<circle cx="157.2" cy="626.7" r="3.2" fill="#1a911a" stroke="#063006" stroke-width="0.75"/>
<circle cx="127.7" cy="643.0" r="3.2" fill="#0000ff" stroke="#000050" stroke-width="0.75"/>
<circle cx="139.9" cy="644.1" r="3.2" fill="#0000ff" stroke="#000050" stroke-width="0.75"/>
<circle cx="145.5" cy="641.6" r="3.2" fill="#1a911a" stroke="#063006" stroke-width="0.75"/>
<circle cx="148.4" cy="636.8" r="3.2" fill="#0000ff" stroke="#000050" stroke-width="0.75"/>
<circle cx="150.0" cy="641.1" r="3.2" fill="#1a911a" stroke="#063006" stroke-width="0.75"/>
<circle cx="153.9" cy="641.1" r="3.2" fill="#1a911a" stroke="#063006" stroke-width="0.75"/>
<circle cx="142.6" cy="649.1" r="3.2" fill="#0000ff" stroke="#000050" stroke-width="0.75"/>
<circle cx="130.3" cy="657.1" r="3.2" fill="#1a911a" stroke="#063006" stroke-width="0.75"/>
<circle cx="152.8" cy="656.0" r="3.2" fill="#1a911a" stroke="#063006" stroke-width="0.75"/>
<circle cx="135.2" cy="664.6" r="3.2" fill="#1a911a" stroke="#063006" stroke-width="0.75"/>
<circle cx="124.8" cy="664.8" r="3.2" fill="#0000ff" stroke="#000050" stroke-width="0.75"/>
<circle cx="153.1" cy="665.9" r="3.2" fill="#0000ff" stroke="#000050" stroke-width="0.75"/>
<circle cx="164.9" cy="669.2" r="3.2" fill="#0000ff" stroke="#000050" stroke-width="0.75"/>
<circle cx="171.5" cy="659.5" r="3.2" fill="#1a911a" stroke="#063006" stroke-width="0.75"/>
<circle cx="177.6" cy="653.6" r="3.2" fill="#0000ff" stroke="#000050" stroke-width="0.75"/>
<circle cx="191.6" cy="650.8" r="3.2" fill="#0000ff" stroke="#000050" stroke-width="0.75"/>
<circle cx="193.6" cy="638.3" r="3.2" fill="#1a911a" stroke="#063006" stroke-width="0.75"/>
<circle cx="203.0" cy="639.4" r="3.2" fill="#0000ff" stroke="#000050" stroke-width="0.75"/>
<circle cx="224.2" cy="661.3" r="3.2" fill="#0000ff" stroke="#000050" stroke-width="0.75"/>
<circle cx="183.5" cy="670.0" r="3.2" fill="#0000ff" stroke="#000050" stroke-width="0.75"/>
<circle cx="142.3" cy="674.8" r="3.2" fill="#0000ff" stroke="#000050" stroke-width="0.75"/>
<circle cx="219.2" cy="682.5" r="3.2" fill="#0000ff" stroke="#000050" stroke-width="0.75"/>
<circle cx="170.8" cy="693.7" r="3.2" fill="#0000ff" stroke="#000050" stroke-width="0.75"/>
<circle cx="116.9" cy="674.6" r="3.2" fill="#1a911a" stroke="#063006" stroke-width="0.75"/>
<circle cx="119.1" cy="684.5" r="3.2" fill="#0000ff" stroke="#000050" stroke-width="0.75"/>
<circle cx="99.4" cy="694.1" r="3.2" fill="#0000ff" stroke="#000050" stroke-width="0.75"/>
<circle cx="118.2" cy="698.1" r="3.2" fill="#0000ff" stroke="#000050" stroke-width="0.75"/>
<circle cx="120.0" cy="697.2" r="3.2" fill="#1a911a" stroke="#063006" stroke-width="0.75"/>
<circle cx="123.8" cy="700.0" r="3.2" fill="#1a911a" stroke="#063006" stroke-width="0.75"/>
<circle cx="96.6" cy="716.0" r="3.2" fill="#1a911a" stroke="#063006" stroke-width="0.75"/>
<circle cx="106.2" cy="714.4" r="3.2" fill="#1a911a" stroke="#063006" stroke-width="0.75"/>
<circle cx="125.0" cy="727.6" r="3.2" fill="#1a911a" stroke="#063006" stroke-width="0.75"/>
<circle cx="132.0" cy="731.4" r="3.2" fill="#1a911a" stroke="#063006" stroke-width="0.75"/>
<circle cx="135.1" cy="731.4" r="3.2" fill="#0000ff" stroke="#000050" stroke-width="0.75"/>
<circle cx="85.6" cy="757.9" r="3.2" fill="#1a911a" stroke="#063006" stroke-width="0.75"/>
<circle cx="170.5" cy="731.2" r="3.2" fill="#1a911a" stroke="#063006" stroke-width="0.75"/>
<circle cx="141.0" cy="671.7" r="3.2" fill="#0000ff" stroke="#000050" stroke-width="0.75"/>
<circle cx="59.6" cy="617.5" r="3.2" fill="#ff8208" stroke="#502800" stroke-width="0.75"/>
<circle cx="97.7" cy="629.5" r="3.2" fill="#ff8208" stroke="#502800" stroke-width="0.75"/>
<circle cx="26.3" cy="641.1" r="3.2" fill="#a133a1" stroke="#3a0a3a" stroke-width="0.75"/>
<circle cx="37.4" cy="653.6" r="3.2" fill="#a133a1" stroke="#3a0a3a" stroke-width="0.75"/>
<circle cx="81.0" cy="650.1" r="3.2" fill="#ff8208" stroke="#502800" stroke-width="0.75"/>
<circle cx="115.6" cy="642.5" r="3.2" fill="#ff8208" stroke="#502800" stroke-width="0.75"/>
<circle cx="121.5" cy="646.2" r="3.2" fill="#ff8208" stroke="#502800" stroke-width="0.75"/>
<circle cx="81.5" cy="661.9" r="3.2" fill="#ff8208" stroke="#502800" stroke-width="0.75"/>
<circle cx="76.0" cy="663.7" r="3.2" fill="#ff8208" stroke="#502800" stroke-width="0.75"/>
<circle cx="124.9" cy="662.6" r="3.2" fill="#a133a1" stroke="#3a0a3a" stroke-width="0.75"/>
<circle cx="57.4" cy="678.8" r="3.2" fill="#a133a1" stroke="#3a0a3a" stroke-width="0.75"/>
<circle cx="73.1" cy="674.9" r="3.2" fill="#ff8208" stroke="#502800" stroke-width="0.75"/>
<circle cx="113.9" cy="673.8" r="3.2" fill="#ff8208" stroke="#502800" stroke-width="0.75"/>
<circle cx="139.4" cy="671.4" r="3.2" fill="#ff8208" stroke="#502800" stroke-width="0.75"/>
<circle cx="147.2" cy="681.1" r="3.2" fill="#ff8208" stroke="#502800" stroke-width="0.75"/>
<circle cx="81.7" cy="688.9" r="3.2" fill="#ff8208" stroke="#502800" stroke-width="0.75"/>
<circle cx="92.6" cy="686.0" r="3.2" fill="#a133a1" stroke="#3a0a3a" stroke-width="0.75"/>
<circle cx="108.6" cy="691.1" r="3.2" fill="#a133a1" stroke="#3a0a3a" stroke-width="0.75"/>
<circle cx="65.5" cy="700.0" r="3.2" fill="#a133a1" stroke="#3a0a3a" stroke-width="0.75"/>
<circle cx="75.5" cy="703.1" r="3.2" fill="#ff8208" stroke="#502800" stroke-width="0.75"/>
<circle cx="85.6" cy="703.1" r="3.2" fill="#a133a1" stroke="#3a0a3a" stroke-width="0.75"/>
<circle cx="97.2" cy="700.0" r="3.2" fill="#a133a1" stroke="#3a0a3a" stroke-width="0.75"/>
<circle cx="113.9" cy="706.4" r="3.2" fill="#a133a1" stroke="#3a0a3a" stroke-width="0.75"/>
<circle cx="66.3" cy="716.0" r="3.2" fill="#ff8208" stroke="#502800" stroke-width="0.75"/>
<circle cx="80.6" cy="716.0" r="3.2" fill="#a133a1" stroke="#3a0a3a" stroke-width="0.75"/>
<circle cx="113.0" cy="714.1" r="3.2" fill="#ff8208" stroke="#502800" stroke-width="0.75"/>
<circle cx="90.7" cy="723.0" r="3.2" fill="#ff8208" stroke="#502800" stroke-width="0.75"/>
<circle cx="86.1" cy="727.9" r="3.2" fill="#ff8208" stroke="#502800" stroke-width="0.75"/>
<circle cx="60.7" cy="727.6" r="3.2" fill="#a133a1" stroke="#3a0a3a" stroke-width="0.75"/>
<circle cx="62.2" cy="734.9" r="3.2" fill="#a133a1" stroke="#3a0a3a" stroke-width="0.75"/>
<circle cx="94.6" cy="732.2" r="3.2" fill="#a133a1" stroke="#3a0a3a" stroke-width="0.75"/>
<circle cx="112.5" cy="742.7" r="3.2" fill="#a133a1" stroke="#3a0a3a" stroke-width="0.75"/>
<circle cx="71.2" cy="757.2" r="3.2" fill="#a133a1" stroke="#3a0a3a" stroke-width="0.75"/>
<circle cx="65.5" cy="759.8" r="3.2" fill="#a133a1" stroke="#3a0a3a" stroke-width="0.75"/>
<circle cx="83.4" cy="770.8" r="3.2" fill="#a133a1" stroke="#3a0a3a" stroke-width="0.75"/>
<circle cx="150.7" cy="653.2" r="3.2" fill="#ff8208" stroke="#502800" stroke-width="0.75"/>
<circle cx="159.4" cy="659.8" r="3.2" fill="#ff8208" stroke="#502800" stroke-width="0.75"/>
<circle cx="201.2" cy="648.4" r="3.2" fill="#a133a1" stroke="#3a0a3a" stroke-width="0.75"/>
<circle cx="114.6" cy="676.0" r="3.2" fill="#ff8208" stroke="#502800" stroke-width="0.75"/>
<circle cx="98.8" cy="690.2" r="3.2" fill="#1a911a" stroke="#063006" stroke-width="0.75"/>
<line x1="490.30" y1="596.70" x2="490.30" y2="774.10" stroke="#a8a8a8" stroke-width="1.2"/>
<line x1="490.30" y1="774.10" x2="367.10" y2="812.70" stroke="#8c8c8c" stroke-width="0.9"/>
<line x1="490.30" y1="774.30" x2="635.20" y2="815.90" stroke="#8c8c8c" stroke-width="0.9"/>
<text x="453.00" y="598.10" font-family="Liberation Sans" font-size="9.6" font-weight="normal" textLength="75.0" lengthAdjust="spacingAndGlyphs" stroke="#000" stroke-width="0.25">Axis 2 (5.540 %)</text>
<text x="317.40" y="820.10" font-family="Liberation Sans" font-size="9.6" font-weight="normal" textLength="75.0" lengthAdjust="spacingAndGlyphs" stroke="#000" stroke-width="0.25">Axis 3 (4.651 %)</text>
<text x="604.70" y="821.50" font-family="Liberation Sans" font-size="9.6" font-weight="normal" textLength="75.2" lengthAdjust="spacingAndGlyphs" stroke="#000" stroke-width="0.25">Axis 1 (14.83 %)</text>
<text x="449.10" y="826.20" font-family="Liberation Sans" font-size="18" font-weight="normal" textLength="94.2" lengthAdjust="spacingAndGlyphs">unweighted</text>
<circle cx="460.1" cy="611.0" r="3.2" fill="#0000ff" stroke="#000050" stroke-width="0.75"/>
<circle cx="462.5" cy="627.4" r="3.2" fill="#1a911a" stroke="#063006" stroke-width="0.75"/>
<circle cx="492.3" cy="633.7" r="3.2" fill="#0000ff" stroke="#000050" stroke-width="0.75"/>
<circle cx="448.5" cy="639.9" r="3.2" fill="#1a911a" stroke="#063006" stroke-width="0.75"/>
<circle cx="450.7" cy="644.3" r="3.2" fill="#1a911a" stroke="#063006" stroke-width="0.75"/>
<circle cx="441.9" cy="650.4" r="3.2" fill="#0000ff" stroke="#000050" stroke-width="0.75"/>
<circle cx="430.1" cy="658.1" r="3.2" fill="#1a911a" stroke="#063006" stroke-width="0.75"/>
<circle cx="467.5" cy="649.1" r="3.2" fill="#0000ff" stroke="#000050" stroke-width="0.75"/>
<circle cx="475.2" cy="652.6" r="3.2" fill="#0000ff" stroke="#000050" stroke-width="0.75"/>
<circle cx="468.2" cy="655.0" r="3.2" fill="#0000ff" stroke="#000050" stroke-width="0.75"/>
<circle cx="494.2" cy="661.3" r="3.2" fill="#1a911a" stroke="#063006" stroke-width="0.75"/>
<circle cx="485.0" cy="666.6" r="3.2" fill="#1a911a" stroke="#063006" stroke-width="0.75"/>
<circle cx="491.4" cy="667.0" r="3.2" fill="#1a911a" stroke="#063006" stroke-width="0.75"/>
<circle cx="490.1" cy="670.5" r="3.2" fill="#0000ff" stroke="#000050" stroke-width="0.75"/>
<circle cx="448.7" cy="667.0" r="3.2" fill="#1a911a" stroke="#063006" stroke-width="0.75"/>
<circle cx="442.6" cy="676.7" r="3.2" fill="#0000ff" stroke="#000050" stroke-width="0.75"/>
<circle cx="485.7" cy="676.2" r="3.2" fill="#0000ff" stroke="#000050" stroke-width="0.75"/>
<circle cx="483.3" cy="674.5" r="3.2" fill="#1a911a" stroke="#063006" stroke-width="0.75"/>
<circle cx="500.8" cy="680.4" r="3.2" fill="#0000ff" stroke="#000050" stroke-width="0.75"/>
<circle cx="396.8" cy="670.3" r="3.2" fill="#1a911a" stroke="#063006" stroke-width="0.75"/>
<circle cx="418.9" cy="671.4" r="3.2" fill="#0000ff" stroke="#000050" stroke-width="0.75"/>
<circle cx="418.3" cy="678.2" r="3.2" fill="#1a911a" stroke="#063006" stroke-width="0.75"/>
<circle cx="406.9" cy="701.4" r="3.2" fill="#1a911a" stroke="#063006" stroke-width="0.75"/>
<circle cx="485.1" cy="710.7" r="3.2" fill="#0000ff" stroke="#000050" stroke-width="0.75"/>
<circle cx="493.6" cy="710.2" r="3.2" fill="#0000ff" stroke="#000050" stroke-width="0.75"/>
<circle cx="456.8" cy="721.8" r="3.2" fill="#1a911a" stroke="#063006" stroke-width="0.75"/>
<circle cx="445.4" cy="729.0" r="3.2" fill="#1a911a" stroke="#063006" stroke-width="0.75"/>
<circle cx="423.5" cy="730.4" r="3.2" fill="#0000ff" stroke="#000050" stroke-width="0.75"/>
<circle cx="435.3" cy="735.8" r="3.2" fill="#1a911a" stroke="#063006" stroke-width="0.75"/>
<circle cx="445.8" cy="739.1" r="3.2" fill="#0000ff" stroke="#000050" stroke-width="0.75"/>
<circle cx="493.8" cy="731.7" r="3.2" fill="#1a911a" stroke="#063006" stroke-width="0.75"/>
<circle cx="468.8" cy="744.1" r="3.2" fill="#0000ff" stroke="#000050" stroke-width="0.75"/>
<circle cx="466.0" cy="749.6" r="3.2" fill="#0000ff" stroke="#000050" stroke-width="0.75"/>
<circle cx="397.9" cy="748.7" r="3.2" fill="#1a911a" stroke="#063006" stroke-width="0.75"/>
<circle cx="436.4" cy="752.3" r="3.2" fill="#1a911a" stroke="#063006" stroke-width="0.75"/>
<circle cx="458.8" cy="755.8" r="3.2" fill="#1a911a" stroke="#063006" stroke-width="0.75"/>
<circle cx="474.3" cy="768.0" r="3.2" fill="#0000ff" stroke="#000050" stroke-width="0.75"/>
<circle cx="465.6" cy="770.9" r="3.2" fill="#0000ff" stroke="#000050" stroke-width="0.75"/>
<circle cx="463.4" cy="773.1" r="3.2" fill="#1a911a" stroke="#063006" stroke-width="0.75"/>
<circle cx="427.2" cy="777.2" r="3.2" fill="#0000ff" stroke="#000050" stroke-width="0.75"/>
<circle cx="390.7" cy="788.4" r="3.2" fill="#1a911a" stroke="#063006" stroke-width="0.75"/>
<circle cx="439.7" cy="786.4" r="3.2" fill="#1a911a" stroke="#063006" stroke-width="0.75"/>
<circle cx="431.6" cy="639.2" r="3.2" fill="#a133a1" stroke="#3a0a3a" stroke-width="0.75"/>
<circle cx="430.5" cy="648.9" r="3.2" fill="#ff8208" stroke="#502800" stroke-width="0.75"/>
<circle cx="429.2" cy="650.8" r="3.2" fill="#a133a1" stroke="#3a0a3a" stroke-width="0.75"/>
<circle cx="483.5" cy="658.7" r="3.2" fill="#ff8208" stroke="#502800" stroke-width="0.75"/>
<circle cx="415.0" cy="664.8" r="3.2" fill="#a133a1" stroke="#3a0a3a" stroke-width="0.75"/>
<circle cx="481.3" cy="674.0" r="3.2" fill="#ff8208" stroke="#502800" stroke-width="0.75"/>
<circle cx="384.3" cy="676.2" r="3.2" fill="#a133a1" stroke="#3a0a3a" stroke-width="0.75"/>
<circle cx="379.5" cy="691.3" r="3.2" fill="#a133a1" stroke="#3a0a3a" stroke-width="0.75"/>
<circle cx="423.5" cy="688.5" r="3.2" fill="#ff8208" stroke="#502800" stroke-width="0.75"/>
<circle cx="421.5" cy="695.3" r="3.2" fill="#a133a1" stroke="#3a0a3a" stroke-width="0.75"/>
<circle cx="409.1" cy="696.8" r="3.2" fill="#ff8208" stroke="#502800" stroke-width="0.75"/>
<circle cx="438.8" cy="693.7" r="3.2" fill="#ff8208" stroke="#502800" stroke-width="0.75"/>
<circle cx="428.3" cy="701.3" r="3.2" fill="#ff8208" stroke="#502800" stroke-width="0.75"/>
<circle cx="422.4" cy="703.8" r="3.2" fill="#ff8208" stroke="#502800" stroke-width="0.75"/>
<circle cx="386.7" cy="707.5" r="3.2" fill="#a133a1" stroke="#3a0a3a" stroke-width="0.75"/>
<circle cx="433.1" cy="711.7" r="3.2" fill="#ff8208" stroke="#502800" stroke-width="0.75"/>
<circle cx="438.8" cy="710.9" r="3.2" fill="#ff8208" stroke="#502800" stroke-width="0.75"/>
<circle cx="502.3" cy="715.1" r="3.2" fill="#a133a1" stroke="#3a0a3a" stroke-width="0.75"/>
<circle cx="392.6" cy="719.6" r="3.2" fill="#a133a1" stroke="#3a0a3a" stroke-width="0.75"/>
<circle cx="403.8" cy="728.4" r="3.2" fill="#a133a1" stroke="#3a0a3a" stroke-width="0.75"/>
<circle cx="425.0" cy="725.5" r="3.2" fill="#ff8208" stroke="#502800" stroke-width="0.75"/>
<circle cx="432.3" cy="727.3" r="3.2" fill="#ff8208" stroke="#502800" stroke-width="0.75"/>
<circle cx="420.0" cy="732.1" r="3.2" fill="#a133a1" stroke="#3a0a3a" stroke-width="0.75"/>
<circle cx="434.9" cy="733.4" r="3.2" fill="#ff8208" stroke="#502800" stroke-width="0.75"/>
<circle cx="421.5" cy="738.2" r="3.2" fill="#a133a1" stroke="#3a0a3a" stroke-width="0.75"/>
<circle cx="416.3" cy="743.9" r="3.2" fill="#ff8208" stroke="#502800" stroke-width="0.75"/>
<circle cx="378.0" cy="764.7" r="3.2" fill="#a133a1" stroke="#3a0a3a" stroke-width="0.75"/>
<circle cx="395.9" cy="761.7" r="3.2" fill="#a133a1" stroke="#3a0a3a" stroke-width="0.75"/>
<circle cx="389.6" cy="768.9" r="3.2" fill="#a133a1" stroke="#3a0a3a" stroke-width="0.75"/>
<circle cx="407.1" cy="761.4" r="3.2" fill="#a133a1" stroke="#3a0a3a" stroke-width="0.75"/>
<circle cx="421.5" cy="759.0" r="3.2" fill="#a133a1" stroke="#3a0a3a" stroke-width="0.75"/>
<circle cx="455.0" cy="755.8" r="3.2" fill="#ff8208" stroke="#502800" stroke-width="0.75"/>
<circle cx="447.4" cy="773.7" r="3.2" fill="#ff8208" stroke="#502800" stroke-width="0.75"/>
<circle cx="455.7" cy="777.7" r="3.2" fill="#ff8208" stroke="#502800" stroke-width="0.75"/>
<circle cx="404.2" cy="785.1" r="3.2" fill="#a133a1" stroke="#3a0a3a" stroke-width="0.75"/>
<circle cx="433.1" cy="788.2" r="3.2" fill="#ff8208" stroke="#502800" stroke-width="0.75"/>
<circle cx="441.9" cy="791.7" r="3.2" fill="#ff8208" stroke="#502800" stroke-width="0.75"/>
<circle cx="396.4" cy="803.9" r="3.2" fill="#a133a1" stroke="#3a0a3a" stroke-width="0.75"/>
<circle cx="443.2" cy="791.2" r="3.2" fill="#0000ff" stroke="#000050" stroke-width="0.75"/>
<circle cx="420.0" cy="686.3" r="3.2" fill="#ff8208" stroke="#502800" stroke-width="0.75"/>
<circle cx="247.6" cy="596.1" r="8.6" fill="#0000ff" stroke="#1a1a1a" stroke-width="0.9"/>
<text x="262.50" y="602.70" font-family="Liberation Sans" font-size="16.5" font-weight="normal" textLength="138.5" lengthAdjust="spacingAndGlyphs">RIFA (+) soil, 0 cm</text>
<circle cx="247.6" cy="617.3" r="8.6" fill="#ff8208" stroke="#1a1a1a" stroke-width="0.9"/>
<text x="262.50" y="623.10" font-family="Liberation Sans" font-size="16.5" font-weight="normal" textLength="134.6" lengthAdjust="spacingAndGlyphs">RIFA (-) soil, 0 cm</text>
<circle cx="247.6" cy="638.0" r="8.6" fill="#1a911a" stroke="#1a1a1a" stroke-width="0.9"/>
<text x="262.50" y="643.20" font-family="Liberation Sans" font-size="16.5" font-weight="normal" textLength="145.1" lengthAdjust="spacingAndGlyphs">RIFA (+) soil, 10 cm</text>
<circle cx="247.6" cy="658.0" r="8.6" fill="#a133a1" stroke="#1a1a1a" stroke-width="0.9"/>
<text x="262.50" y="663.40" font-family="Liberation Sans" font-size="16.5" font-weight="normal" textLength="140.7" lengthAdjust="spacingAndGlyphs">RIFA (-) soil, 10 cm</text>
</svg></body></html>
